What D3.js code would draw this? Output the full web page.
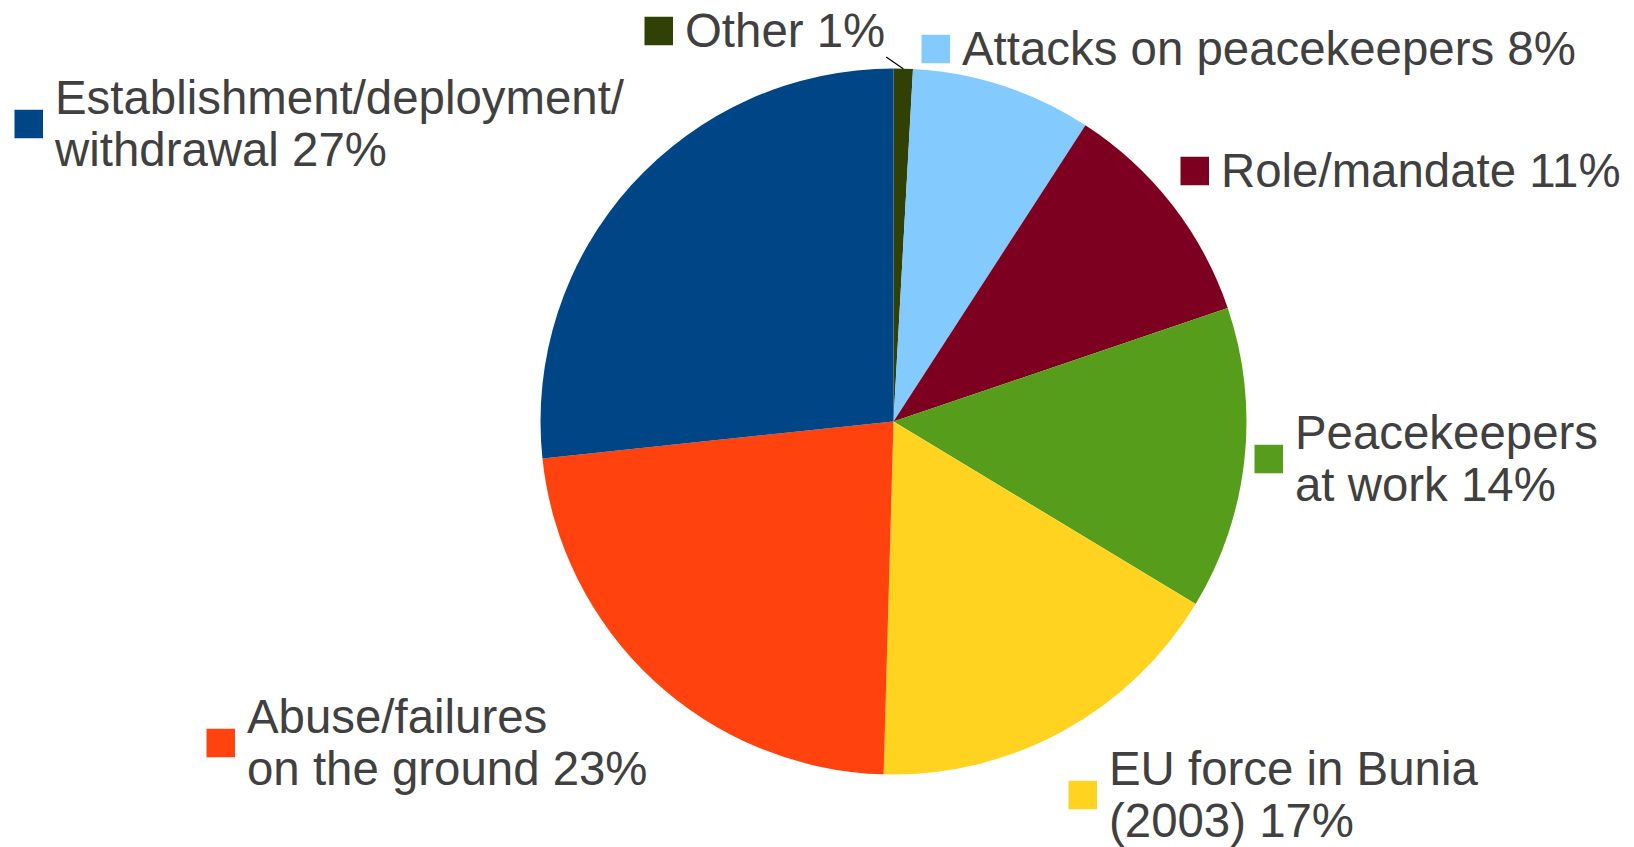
<!DOCTYPE html>
<html>
<head>
<meta charset="utf-8">
<script src="https://cdn.jsdelivr.net/npm/d3@7"></script>
<style>
  html, body { margin: 0; padding: 0; background: #ffffff; }
  svg { display: block; }
  text { font-family: "Liberation Sans", Arial, sans-serif; fill: #404040; }
</style>
</head>
<body>
<svg id="chart" width="1634" height="847"></svg>
<script>
// Slices in drawing order (clockwise from 12 o'clock)
const categories = ["Other", "Attacks on peacekeepers", "Role/mandate", "Peacekeepers at work", "EU force in Bunia (2003)", "Abuse/failures on the ground", "Establishment/deployment/withdrawal"];
const values = [0.88, 8.27, 10.64, 13.86, 16.8, 22.89, 26.67];
const percentLabels = ["1%", "8%", "11%", "14%", "17%", "23%", "27%"];
const labelLines = [
  ["Other 1%"],
  ["Attacks on peacekeepers 8%"],
  ["Role/mandate 11%"],
  ["Peacekeepers", "at work 14%"],
  ["EU force in Bunia", "(2003) 17%"],
  ["Abuse/failures", "on the ground 23%"],
  ["Establishment/deployment/", "withdrawal 27%"]
];
const colors = ["#314004", "#83caff", "#7e0021", "#579d1c", "#ffd320", "#ff420e", "#004586"];

// Layout (label anchors: text start x, first baseline y)
const cx = 893.5, cy = 421.5, R = 353;
const labelPos = [[685, 47], [962, 65], [1221, 187], [1295, 449], [1109, 785], [247, 733], [55, 114]];
const fontSize = 47.4, lineH = 52, sq = 28.5, sqGap = 12;

const svg = d3.select("#chart");
const g = svg.append("g").attr("transform", `translate(${cx},${cy})`);

const pie = d3.pie().sort(null).value(d => d)(values);
const arc = d3.arc().innerRadius(0).outerRadius(R);
const color = d3.scaleOrdinal().domain(categories).range(colors);

g.selectAll("path.slice")
  .data(pie)
  .join("path")
  .attr("class", "slice")
  .attr("d", arc)
  .attr("fill", (d, i) => color(categories[i]));

// Labels
const labels = svg.selectAll("g.lbl")
  .data(labelLines)
  .join("g")
  .attr("class", "lbl")
  .attr("transform", (d, i) => `translate(${labelPos[i][0]},${labelPos[i][1]})`);

labels.each(function(lines, i) {
  const sel = d3.select(this);
  const n = lines.length;
  const centerY = -16 + (n - 1) * lineH / 2;
  sel.append("rect")
    .attr("x", -sqGap - sq)
    .attr("y", centerY - sq / 2)
    .attr("width", sq)
    .attr("height", sq)
    .attr("fill", colors[i]);
  const t = sel.append("text").attr("font-size", fontSize);
  lines.forEach((ln, k) => {
    t.append("tspan").attr("x", 0).attr("y", k * lineH).text(ln);
  });
});

// Leader line for the tiny "Other" slice
const otherText = labels.filter((d, i) => i === 0).select("text").node();
const otherLen = otherText.getComputedTextLength();
const outer = d3.arc().innerRadius(R).outerRadius(R);
const c0 = outer.centroid(pie[0]);
svg.append("line")
  .attr("x1", labelPos[0][0] + otherLen + 1)
  .attr("y1", labelPos[0][1] + 10)
  .attr("x2", cx + c0[0])
  .attr("y2", cy + c0[1])
  .attr("stroke", "#000")
  .attr("stroke-width", 1.2);
</script>
</body>
</html>
